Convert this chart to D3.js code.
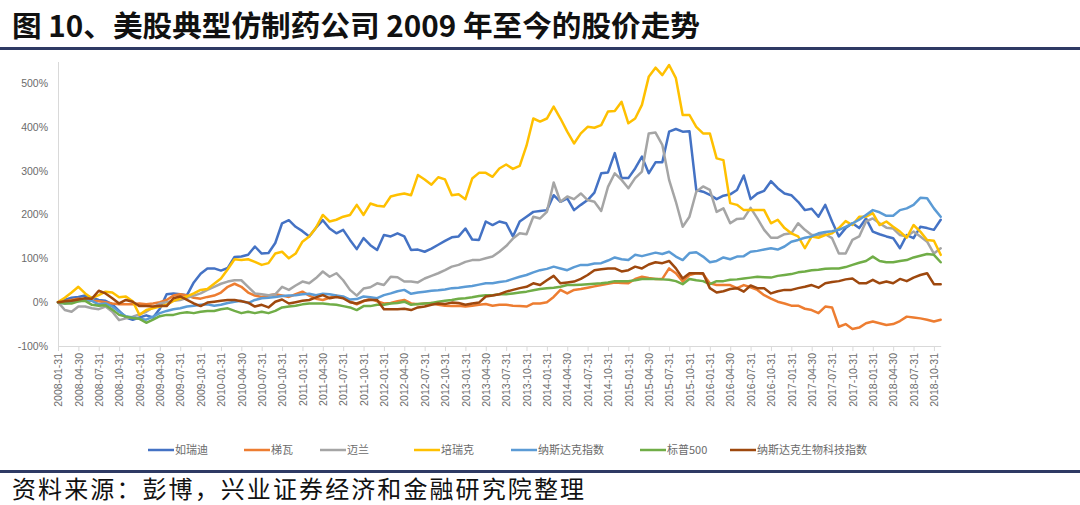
<!DOCTYPE html>
<html><head><meta charset="utf-8">
<script src="https://cdn.jsdelivr.net/npm/d3@7"></script>
<style>
html,body{margin:0;padding:0;background:#fff;}
svg{display:block;}
</style></head>
<body>
<svg id="c" width="1080" height="505"></svg>
<script>
// ---- data ----
const seriesNames = ["如瑞迪","梯瓦","迈兰","培瑞克","纳斯达克指数","标普500","纳斯达克生物科技指数"];
const tickLabels = ["2008-01-31","2008-04-30","2008-07-31","2008-10-31","2009-01-31","2009-04-30","2009-07-31","2009-10-31",
"2010-01-31","2010-04-30","2010-07-31","2010-10-31","2011-01-31","2011-04-30","2011-07-31","2011-10-31",
"2012-01-31","2012-04-30","2012-07-31","2012-10-31","2013-01-31","2013-04-30","2013-07-31","2013-10-31",
"2014-01-31","2014-04-30","2014-07-31","2014-10-31","2015-01-31","2015-04-30","2015-07-31","2015-10-31",
"2016-01-31","2016-04-30","2016-07-31","2016-10-31","2017-01-31","2017-04-30","2017-07-31","2017-10-31",
"2018-01-31","2018-04-30","2018-07-31","2018-10-31"];
const yTicks = [-100,0,100,200,300,400,500];

const drreddy = [0,5,10,12,15,10,5,3,-5,-20,
-35,-40,-35,-30,-35,-15,18,20,18,16,
45,65,77,77,72,78,103,104,108,127,
111,112,135,180,187,172,162,150,170,187,
168,157,165,142,121,146,130,119,153,150,
157,150,119,120,115,122,131,140,148,150,
168,143,142,184,176,184,180,150,184,195,
206,208,210,244,229,237,210,222,233,250,
294,296,340,283,283,305,332,294,319,319,
389,395,389,390,256,252,245,235,243,246,
256,289,235,248,254,276,260,248,244,229,
210,213,195,222,184,150,169,180,169,191,
161,155,150,146,123,153,146,172,169,165,188];
const teva = [0,2,5,8,5,3,2,0,-3,-5,
-5,-5,-3,-5,-3,0,5,15,18,15,
10,8,12,15,22,35,42,35,22,15,
12,15,18,15,12,18,24,15,8,5,
10,15,10,2,-5,2,8,2,-3,-2,
2,5,-3,-5,-3,-2,-6,-8,-9,-8,
-10,-8,-6,-4,-8,-6,-6,-8,-9,-10,
-3,-3,0,12,28,20,28,30,33,36,
39,42,45,44,43,53,58,55,53,53,
77,66,47,62,66,64,43,39,39,39,
32,39,34,28,16,8,1,-3,-8,-8,
-15,-18,-25,-10,-12,-56,-50,-61,-58,-48,
-44,-48,-52,-50,-43,-33,-35,-37,-40,-44,-40];
const mylan = [0,-18,-22,-10,-10,-14,-16,-10,-22,-41,
-37,-33,-28,-22,-12,-3,0,3,5,10,
15,20,28,35,42,47,50,50,35,20,
18,16,18,35,28,38,47,43,55,70,
58,66,50,28,15,31,34,43,39,58,
57,47,47,45,54,60,66,73,81,85,
92,96,96,100,104,115,128,145,157,155,
195,191,206,273,229,241,235,248,233,229,
208,263,294,279,260,283,298,385,387,359,
279,229,172,195,252,264,256,206,214,180,
190,191,215,191,165,147,147,155,157,180,
165,153,153,155,146,111,111,142,150,184,
191,180,170,168,153,150,161,150,138,111,123];
const perrigo = [0,10,22,35,20,9,16,24,22,11,
13,2,-29,-18,-14,-10,-6,3,8,13,
20,28,30,42,54,75,98,96,98,92,
85,89,111,115,100,111,138,150,170,199,
184,188,195,199,222,199,225,220,218,241,
245,248,244,290,280,268,285,280,244,246,
235,282,295,295,286,305,314,304,311,357,
419,412,419,446,419,389,362,385,400,398,
404,435,436,457,408,419,450,514,535,518,
541,511,427,427,400,385,385,328,324,226,
222,210,210,210,210,180,188,169,157,150,
123,150,147,153,157,169,185,176,195,195,
203,176,184,172,161,147,176,161,142,140,108];
const nasdaq = [0,-3,0,2,5,3,-5,-3,-10,-22,
-32,-35,-38,-40,-33,-25,-20,-16,-14,-10,
-8,-6,-5,-8,-6,-2,1,3,-2,5,
9,10,12,14,15,16,18,19,16,19,
18,15,13,6,7,13,11,9,16,20,
25,28,19,22,24,26,27,29,32,33,
35,37,40,43,43,46,48,53,58,62,
68,73,76,81,77,73,80,85,85,88,
89,95,102,98,96,108,105,109,113,110,
115,104,96,112,114,104,91,94,102,98,
104,105,115,117,120,123,120,127,138,142,
147,150,157,160,162,165,172,180,188,199,
210,205,197,197,210,214,222,238,237,214,195];
const sp500 = [0,-3,-3,2,3,-6,-8,-7,-17,-29,
-33,-36,-38,-47,-40,-32,-29,-29,-25,-23,
-25,-22,-20,-20,-16,-14,-20,-25,-22,-25,
-22,-25,-20,-12,-10,-8,-5,-3,-3,-3,
-5,-6,-9,-12,-18,-9,-9,-6,-6,-3,
-2,1,-6,-4,-3,-2,1,3,5,8,
9,11,14,16,16,18,18,20,22,24,
27,30,32,33,35,39,39,40,41,42,
43,45,48,48,48,50,53,53,53,52,
51,48,41,53,50,48,41,48,48,51,
52,54,56,58,57,56,60,62,64,68,
70,73,74,76,77,77,80,85,90,94,
104,94,91,91,94,96,102,106,110,108,91];
const nbi = [0,2,3,6,9,8,26,20,9,-3,
5,1,-9,-9,-10,-8,-9,9,13,5,
-3,-9,-1,1,3,5,5,2,-1,-10,
-6,-12,1,6,-3,0,3,5,11,16,
9,12,9,0,-3,3,5,5,-16,-16,
-16,-15,-18,-12,-10,-6,-3,-4,-1,-2,
-6,-3,-1,13,15,18,24,28,32,35,
43,39,50,60,43,45,47,53,62,73,
75,77,77,70,73,81,77,86,91,89,
94,77,54,66,66,66,32,22,25,30,
32,24,38,32,32,20,25,28,28,32,
35,39,33,43,46,48,52,54,43,43,
51,43,47,43,53,48,56,62,66,41,41];
const colors = ["#4472C4","#ED7D31","#A5A5A5","#FFC000","#5B9BD5","#70AD47","#9E480E"];

// month-end category labels
const dates = d3.utcMonth.range(new Date(Date.UTC(2008,0,1)), new Date(Date.UTC(2018,11,1)))
  .map(d => d3.utcFormat("%Y-%m-%d")(new Date(Date.UTC(d.getUTCFullYear(), d.getUTCMonth()+1, 0))));

const allSeries = [drreddy, teva, mylan, perrigo, nasdaq, sp500, nbi];

const svg = d3.select("#c");
const cjk = "'Noto Sans CJK SC','Noto Sans',sans-serif";

// title
svg.append("text").attr("x",12).attr("y",37)
  .attr("font-family",cjk).attr("font-weight",700).attr("font-size",29).attr("fill","#111")
  .attr("textLength",688).attr("lengthAdjust","spacingAndGlyphs")
  .text("图 10、美股典型仿制药公司 2009 年至今的股价走势");
svg.append("rect").attr("x",0).attr("y",47).attr("width",1080).attr("height",3).attr("fill","#2E3A64");

// scales
const x = d3.scalePoint().domain(dates).range([58, 940.7]);
const y = d3.scaleLinear().domain([-100, 500]).range([346, 83]);

// y axis line
svg.append("line").attr("x1",58.5).attr("x2",58.5).attr("y1",62).attr("y2",346)
  .attr("stroke","#D9D9D9").attr("stroke-width",1);
const yAxis = svg.append("g").attr("transform","translate(58,0)")
  .call(d3.axisLeft(y).tickValues(yTicks).tickSize(0).tickPadding(10).tickFormat(d => d + "%"));
yAxis.select(".domain").remove();
yAxis.selectAll("text").attr("font-family","'Liberation Sans',Arial,sans-serif").attr("font-size",10.5).attr("fill","#6b6b6b");

// x axis
const xAxis = svg.append("g").attr("transform","translate(0,346)")
  .call(d3.axisBottom(x).tickValues(tickLabels).tickSize(5).tickSizeOuter(0));
xAxis.select(".domain").attr("stroke","#D9D9D9");
xAxis.selectAll(".tick line").attr("stroke","#D9D9D9");
xAxis.selectAll("text")
  .attr("font-family","'Liberation Sans',Arial,sans-serif").attr("font-size",10.5).attr("fill","#6b6b6b")
  .attr("transform","rotate(-90)").attr("text-anchor","end")
  .attr("x",-7).attr("y",0).attr("dy","0.35em");

// lines
const line = d3.line().x((d,i) => x(dates[i])).y(d => y(d)).curve(d3.curveLinear);
allSeries.forEach((s,k) => {
  svg.append("path").datum(s).attr("d", line).attr("fill","none")
    .attr("stroke", colors[k]).attr("stroke-width",2.5).attr("stroke-linejoin","round").attr("stroke-linecap","round");
});

// legend
const legendX = [148, 244, 320, 414, 511, 640, 730];
const lg = svg.append("g");
seriesNames.forEach((n,k) => {
  const g = lg.append("g").attr("transform", `translate(${legendX[k]},450)`);
  g.append("line").attr("x1",0).attr("x2",26).attr("y1",0).attr("y2",0).attr("stroke",colors[k]).attr("stroke-width",2.5);
  g.append("text").attr("x",27).attr("y",0).attr("dy","0.35em")
    .attr("font-family",cjk).attr("font-size",11).attr("fill","#6b6b6b").text(n);
});

// bottom rule and source
svg.append("rect").attr("x",0).attr("y",470).attr("width",1080).attr("height",3).attr("fill","#2E3A64");
svg.append("text").attr("x",12).attr("y",498)
  .attr("font-family",cjk).attr("font-size",24).attr("fill","#111")
  .attr("textLength",572).attr("lengthAdjust","spacing")
  .text("资料来源：彭博，兴业证券经济和金融研究院整理");
</script>
</body></html>
